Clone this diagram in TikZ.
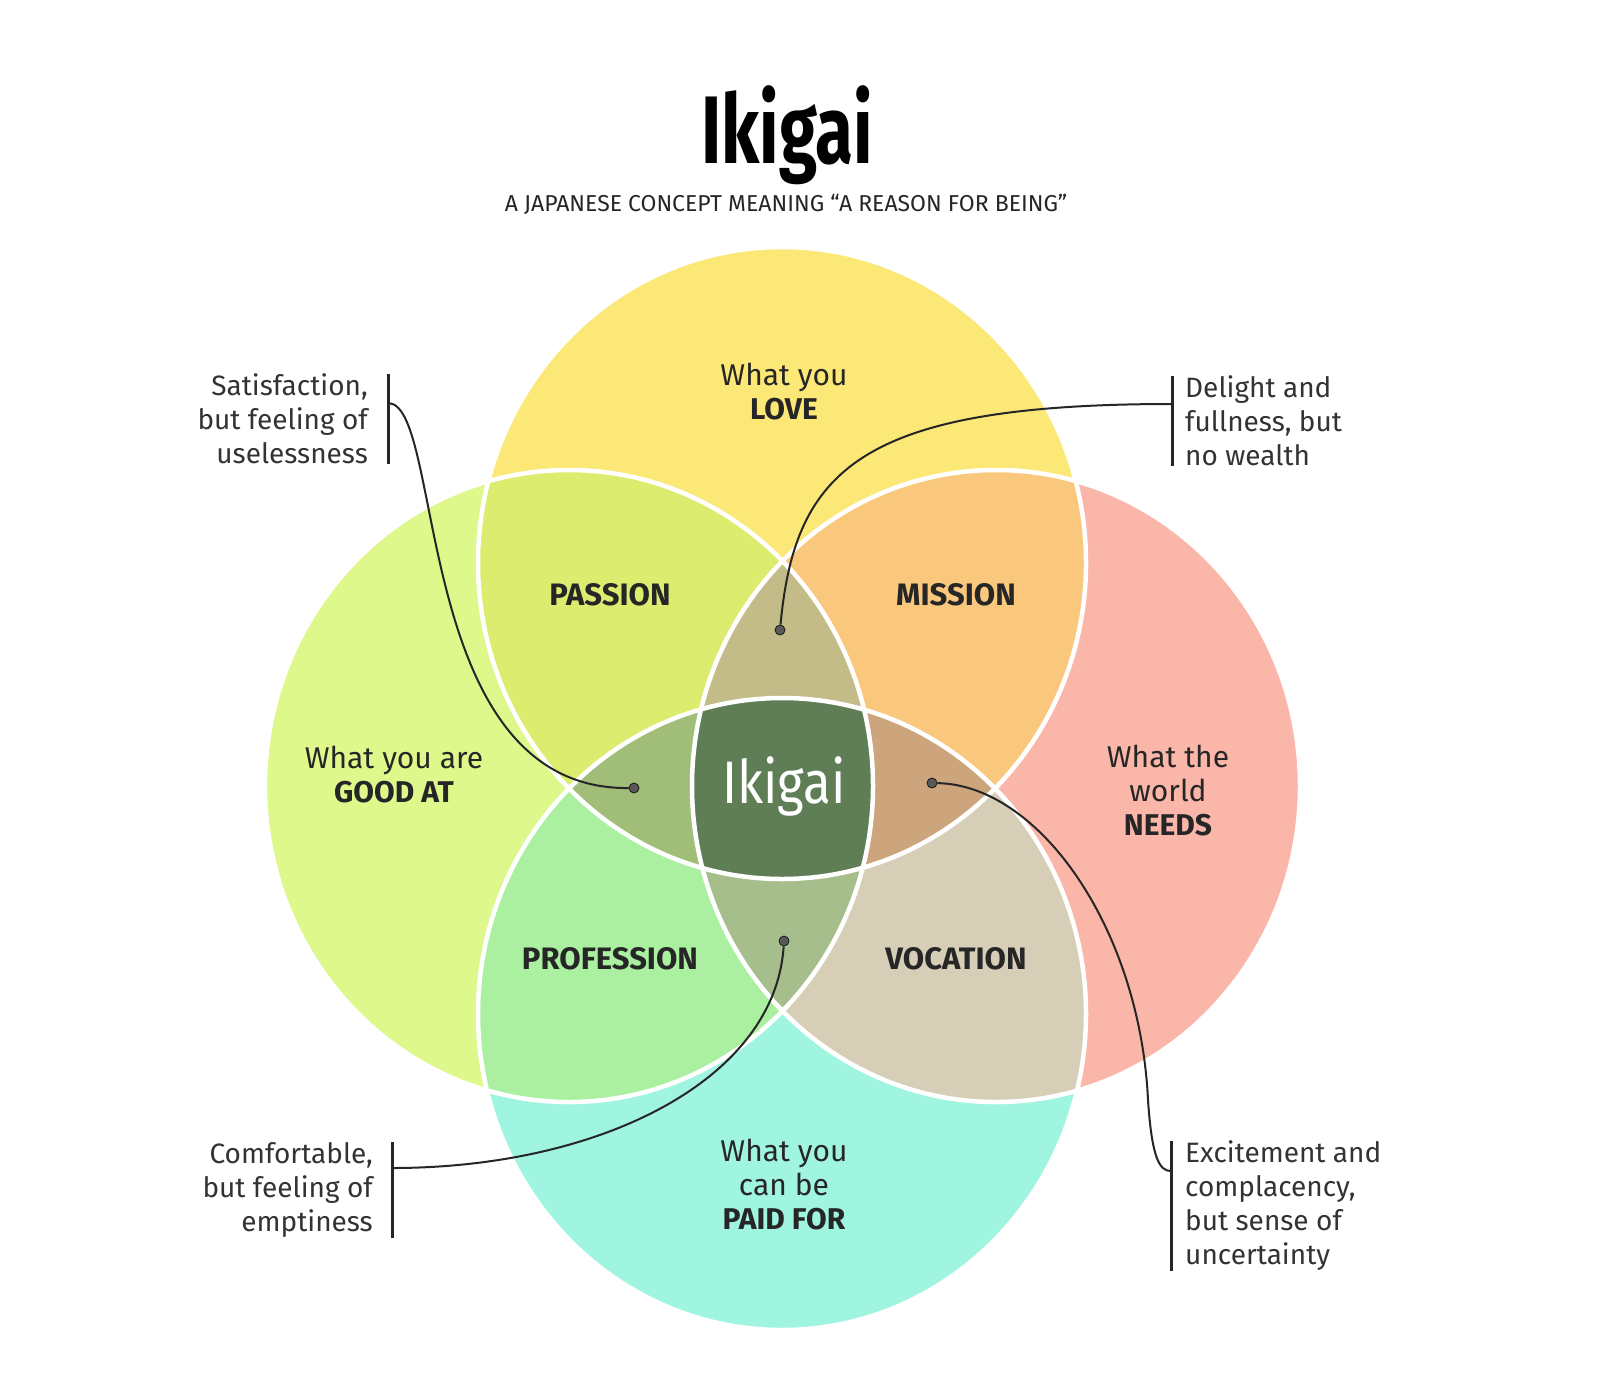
\documentclass[tikz,border=0pt]{standalone}
\usepackage{fontspec}
\setmainfont{Fira Sans}
\usepackage{tikz}
\usetikzlibrary{shapes}

\definecolor{cLove}{RGB}{252,232,118}
\definecolor{cGood}{RGB}{222,248,140}
\definecolor{cNeeds}{RGB}{250,182,168}
\definecolor{cPaid}{RGB}{160,245,225}
\definecolor{cPassion}{RGB}{220,236,110}
\definecolor{cMission}{RGB}{250,200,125}
\definecolor{cProfession}{RGB}{170,240,160}
\definecolor{cVocation}{RGB}{214,206,182}
\definecolor{cTopLens}{RGB}{196,188,136}
\definecolor{cLeftLens}{RGB}{160,190,120}
\definecolor{cRightLens}{RGB}{205,165,125}
\definecolor{cBotLens}{RGB}{165,190,140}
\definecolor{cCore}{RGB}{96,126,86}

\newcommand{\ringlove}{(782,563) ellipse [x radius=304, y radius=316]}
\newcommand{\ringpaid}{(782,1014) ellipse [x radius=304, y radius=316]}
\newcommand{\ringgood}{(569,786) ellipse [x radius=304, y radius=316]}
\newcommand{\ringneeds}{(996,786) ellipse [x radius=304, y radius=316]}

\begin{document}
\begin{tikzpicture}[x=1pt, y=-1pt]

  \tikzset{label/.style = {font=\fontsize{30}{34}\selectfont, align=center, text=black!85}}
  \tikzset{zone/.style = {font=\fontsize{31}{34}\selectfont\bfseries, text=black!85}}
  \tikzset{note/.style = {font=\fontsize{28}{34}\selectfont, text=black!80, inner sep=0pt}}
  \tikzset{spot/.style = {shape=circle, fill=black!65, draw=black!90, thick, inner sep=0pt, minimum size=10pt}}
  \tikzset{bar/.style = {line width=3pt, black!85}}
  \tikzset{lead/.style = {line width=2pt, black!85}}
  \useasboundingbox[fill=white] (0,0) rectangle (1600,1387);

  % circles
  \fill[cLove] \ringlove;
  \fill[cGood] \ringgood;
  \fill[cNeeds] \ringneeds;
  \fill[cPaid] \ringpaid;
  \begin{scope}
    \clip \ringlove;
    \fill[cPassion] \ringgood;
    \fill[cMission] \ringneeds;
  \end{scope}
  \begin{scope}
    \clip \ringpaid;
    \fill[cProfession] \ringgood;
    \fill[cVocation] \ringneeds;
  \end{scope}
  \begin{scope}
    \clip \ringgood;
    \clip \ringneeds;
    \fill[cTopLens] \ringlove;
    \fill[cBotLens] \ringpaid;
  \end{scope}
  \begin{scope}
    \clip \ringlove;
    \clip \ringpaid;
    \fill[cLeftLens] \ringgood;
    \fill[cRightLens] \ringneeds;
    \clip \ringgood;
    \clip \ringneeds;
    \fill[cCore] \ringlove;
  \end{scope}
  \draw[white, line width=4.5pt] \ringlove \ringgood \ringneeds \ringpaid;

  % title
  \node[font=\fontsize{96}{96}\selectfont\bfseries, xscale=0.72, anchor=base] (title) at (787,163) {Ikigai};
  \node[font=\fontsize{23}{23}\selectfont, anchor=base, text=black!85] (subtitle) at (786,211) {A JAPANESE CONCEPT MEANING ``A REASON FOR BEING''};

  % labels
  \node[label] (love) at (784,392) {What you\\\textbf{LOVE}};
  \node[label] (good) at (394,775) {What you are\\\textbf{GOOD AT}};
  \node[label] (needs) at (1168,791) {What the\\world\\\textbf{NEEDS}};
  \node[label] (paid) at (784,1185) {What you\\can be\\\textbf{PAID FOR}};
  \node[zone] (passion) at (610,595) {PASSION};
  \node[zone] (mission) at (956,595) {MISSION};
  \node[zone] (profession) at (610,959) {PROFESSION};
  \node[zone] (vocation) at (956,959) {VOCATION};
  \node[font=\fontsize{60}{60}\selectfont, text=white, xscale=0.85] (core) at (784,786) {Ikigai};

  % dots
  \node[spot] (dtop) at (780,630) {};
  \node[spot] (dleft) at (634,788) {};
  \node[spot] (dright) at (932,783) {};
  \node[spot] (dbot) at (784,941) {};

  % notes
  \node[note, align=right, anchor=east] (notesat) at (368,419) {Satisfaction,\\but feeling of\\uselessness};
  \node[note, align=left, anchor=west] (notedel) at (1185,421) {Delight and\\fullness, but\\no wealth};
  \node[note, align=right, anchor=east] (notecom) at (373,1190) {Comfortable,\\but feeling of\\emptiness};
  \node[note, align=left, anchor=west] (noteexc) at (1185,1206) {Excitement and\\complacency,\\but sense of\\uncertainty};
  \draw[bar] ([xshift=20pt]notesat.north east) -- ([xshift=20pt]notesat.south east);
  \draw[bar] ([xshift=-13pt]notedel.north west) -- ([xshift=-13pt]notedel.south west);
  \draw[bar] ([xshift=19pt]notecom.north east) -- ([xshift=19pt]notecom.south east);
  \draw[bar] ([xshift=-14pt]noteexc.north west) -- ([xshift=-14pt]noteexc.south west);

  % leads
  \coordinate (satlink) at (389,403);
  \coordinate (dellink) at (1172,404);
  \coordinate (comlink) at (392,1168);
  \coordinate (exclink) at (1171,1171);
  \draw[lead] (satlink) .. controls (445,408) and (412,790) .. (dleft);
  \draw[lead] (dtop) .. controls (795,470) and (860,404) .. (dellink);
  \draw[lead] (comlink) .. controls (600,1168) and (775,1080) .. (dbot);
  \draw[lead] (dright) .. controls (1040,785) and (1140,930) .. (1148,1100)
                       .. controls (1152,1160) and (1160,1171) .. (exclink);
\end{tikzpicture}
\end{document}
